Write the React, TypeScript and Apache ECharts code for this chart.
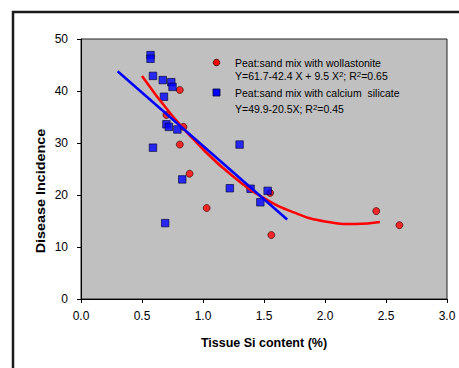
import React, { useEffect, useRef } from "react";
import * as echarts from "echarts";

// Tissue Si content (%) vs Disease Incidence
const wollastonitePoints: [number, number][] = [
  [0.81, 40.2],
  [0.7, 35.4],
  [0.84, 33.1],
  [0.81, 29.7],
  [0.89, 24.1],
  [1.03, 17.5],
  [1.55, 20.4],
  [1.56, 12.3],
  [2.42, 16.9],
  [2.61, 14.2],
];

const calciumSilicatePoints: [number, number][] = [
  [0.57, 46.9],
  [0.57, 46.2],
  [0.59, 42.9],
  [0.67, 42.1],
  [0.74, 41.7],
  [0.75, 40.8],
  [0.68, 38.9],
  [0.7, 33.6],
  [0.72, 33.1],
  [0.79, 32.6],
  [0.59, 29.1],
  [1.3, 29.7],
  [0.83, 23.0],
  [1.22, 21.3],
  [1.39, 21.2],
  [1.53, 20.8],
  [1.47, 18.6],
  [0.69, 14.6],
];

// trend lines
const wollastoniteTrend: [number, number][] = [
  [0.5, 42.9],
  [0.75, 35.2],
  [1.0, 28.8],
  [1.25, 23.5],
  [1.5, 19.4],
  [1.75, 16.6],
  [2.0, 14.9],
  [2.25, 14.4],
  [2.45, 14.8],
];

const calciumSilicateTrend: [number, number][] = [
  [0.3, 43.8],
  [1.69, 15.3],
];

const seriesNames = [
  "Peat:sand mix with wollastonite",
  "Peat:sand mix with calcium  silicate",
];
const equations = [
  "Y=61.7-42.4 X + 9.5 X{sup|2}; R{sup|2}=0.65",
  "Y=49.9-20.5X; R{sup|2}=0.45",
];
const xTitle = "Tissue Si content (%)";
const yTitle = "Disease Incidence";

const FONT = "'Liberation Sans', Arial, sans-serif";

export default function App() {
  const ref = useRef<HTMLDivElement>(null);

  useEffect(() => {
    if (!ref.current) return;
    const chart = echarts.init(ref.current, undefined, { renderer: "svg" });
    const supRich = {
      sup: {
        fontSize: 8,
        fontFamily: FONT,
        fill: "#000",
        verticalAlign: "top",
        padding: [0, 0, 4, 0],
      },
    };
    chart.setOption({
      animation: false,
      backgroundColor: "#ffffff",
      grid: {
        left: 81,
        top: 39,
        right: 12,
        bottom: 69,
        show: true,
        backgroundColor: "#C0C0C0",
        borderColor: "#222",
        borderWidth: 1,
      },
      xAxis: {
        type: "value",
        min: 0,
        max: 3,
        interval: 0.5,
        axisLine: { show: true, lineStyle: { color: "#000", width: 1 } },
        axisTick: { show: true, length: 4, lineStyle: { color: "#000" } },
        splitLine: { show: false },
        axisLabel: {
          margin: 11,
          color: "#000",
          fontSize: 12,
          fontFamily: FONT,
          formatter: (v: number) => v.toFixed(1),
        },
        name: xTitle,
        nameLocation: "middle",
        nameGap: 37,
        nameTextStyle: {
          color: "#000",
          fontSize: 12.5,
          fontWeight: "bold",
          fontFamily: FONT,
        },
      },
      yAxis: {
        type: "value",
        min: 0,
        max: 50,
        interval: 10,
        axisLine: { show: true, lineStyle: { color: "#000", width: 1 } },
        axisTick: { show: true, length: 4, lineStyle: { color: "#000" } },
        splitLine: { show: false },
        axisLabel: {
          margin: 13,
          color: "#000",
          fontSize: 12,
          fontFamily: FONT,
        },
      },
      graphic: [
        {
          type: "polyline",
          shape: { points: [[13, 368], [13, 12], [459, 12]] },
          style: { stroke: "#1a1a1a", lineWidth: 2.5, fill: null },
          z: 100,
        },
        {
          type: "text",
          x: 41,
          y: 191,
          rotation: Math.PI / 2,
          scaleX: 1.15,
          style: {
            text: yTitle,
            fill: "#000",
            font: `bold 12.5px ${FONT}`,
            align: "center",
            verticalAlign: "middle",
          },
          z: 100,
        },
        {
          type: "circle",
          shape: { cx: 216.5, cy: 62.5, r: 3.3 },
          style: { fill: "#FF0000", stroke: "#300", lineWidth: 0.8 },
          z: 100,
        },
        {
          type: "rect",
          shape: { x: 213, y: 89, width: 7, height: 7 },
          style: { fill: "#0000FF", stroke: "#000033", lineWidth: 0.8 },
          z: 100,
        },
        {
          type: "text",
          x: 235,
          y: 62.5,
          style: {
            text: seriesNames[0],
            fill: "#000",
            font: `10.5px ${FONT}`,
            verticalAlign: "middle",
          },
          z: 100,
        },
        {
          type: "text",
          x: 235,
          y: 76,
          style: {
            text: equations[0],
            fill: "#000",
            fontSize: 10.5,
            fontFamily: FONT,
            verticalAlign: "middle",
            rich: supRich,
          },
          z: 100,
        },
        {
          type: "text",
          x: 235,
          y: 92.5,
          style: {
            text: seriesNames[1],
            fill: "#000",
            font: `10.5px ${FONT}`,
            verticalAlign: "middle",
          },
          z: 100,
        },
        {
          type: "text",
          x: 235,
          y: 109,
          style: {
            text: equations[1],
            fill: "#000",
            fontSize: 10.5,
            fontFamily: FONT,
            verticalAlign: "middle",
            rich: supRich,
          },
          z: 100,
        },
      ],
      series: [
        {
          name: seriesNames[0],
          type: "scatter",
          data: wollastonitePoints,
          symbol: "circle",
          symbolSize: 7,
          itemStyle: { color: "#FF0000", borderColor: "#300", borderWidth: 0.8 },
          z: 2,
        },
        {
          name: seriesNames[1],
          type: "scatter",
          data: calciumSilicatePoints,
          symbol: "rect",
          symbolSize: 7.5,
          itemStyle: { color: "#0000FF", borderColor: "#000033", borderWidth: 0.8 },
          z: 3,
        },
        {
          type: "line",
          data: wollastoniteTrend,
          smooth: true,
          showSymbol: false,
          symbol: "none",
          lineStyle: { color: "#FF0000", width: 2.5 },
          z: 4,
        },
        {
          type: "line",
          data: calciumSilicateTrend,
          showSymbol: false,
          symbol: "none",
          lineStyle: { color: "#0000FF", width: 2.5 },
          z: 5,
        },
      ],
    });
    return () => chart.dispose();
  }, []);

  return (
    <div
      ref={ref}
      style={{ position: "fixed", left: 0, top: 0, width: 459, height: 368 }}
    />
  );
}
